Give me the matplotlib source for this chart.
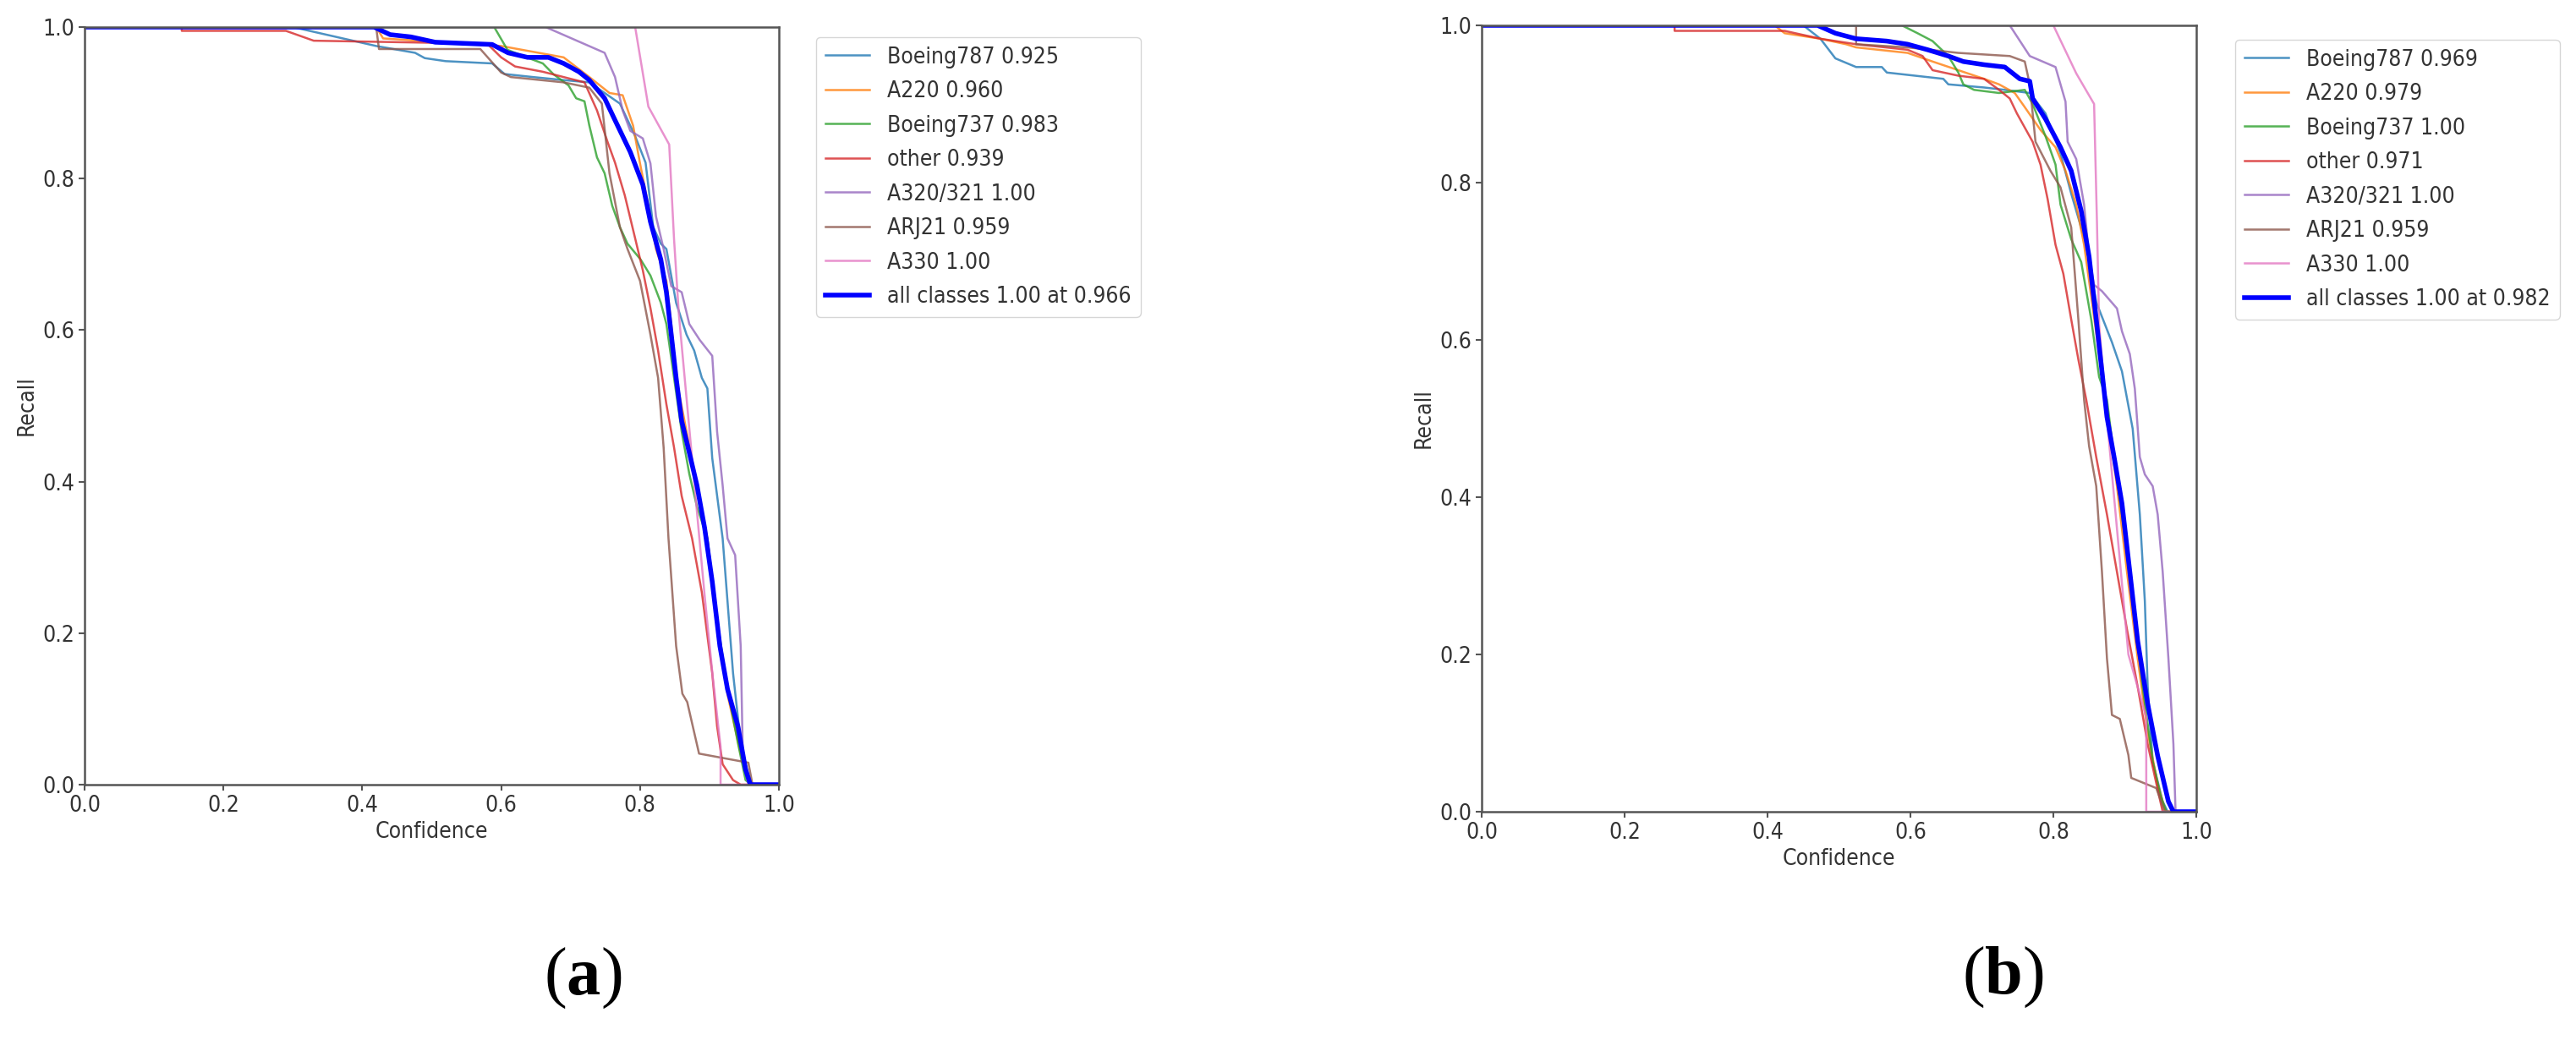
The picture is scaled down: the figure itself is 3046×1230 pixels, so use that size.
import matplotlib
matplotlib.use('Agg')
import matplotlib.pyplot as plt

# class names and colours (tab10 order, like the yolov5 curve plot)
names = ['Boeing787', 'A220', 'Boeing737', 'other', 'A320/321', 'ARJ21', 'A330']
colors = ['#1f77b4', '#ff7f0e', '#2ca02c', '#d62728', '#9467bd', '#8c564b', '#e377c2']

# ---- panel (a): recall vs confidence ----
a_scores = ['0.925', '0.960', '0.983', '0.939', '1.00', '0.959', '1.00']
a_all_label = 'all classes 1.00 at 0.966'

a_787_x = [0, 0.30, 0.42, 0.476, 0.49, 0.52, 0.587, 0.605, 0.646, 0.69, 0.727, 0.749, 0.771, 0.793, 0.808, 0.819, 0.83, 0.838, 0.852, 0.867, 0.878, 0.889, 0.897, 0.904, 0.919, 0.934, 0.945, 0.956, 0.96, 1.0]
a_787_y = [1, 1, 0.975, 0.966, 0.959, 0.955, 0.952, 0.938, 0.934, 0.93, 0.927, 0.913, 0.899, 0.856, 0.821, 0.736, 0.714, 0.707, 0.636, 0.594, 0.573, 0.537, 0.523, 0.431, 0.325, 0.147, 0.055, 0.013, 0, 0]
a_220_x = [0, 0.42, 0.43, 0.60, 0.69, 0.727, 0.756, 0.775, 0.79, 0.80, 0.812, 0.823, 0.838, 0.845, 0.852, 0.867, 0.882, 0.897, 0.911, 0.926, 0.945, 0.956, 0.96, 1.0]
a_220_y = [1, 1, 0.985, 0.975, 0.96, 0.934, 0.913, 0.91, 0.87, 0.82, 0.764, 0.707, 0.665, 0.608, 0.537, 0.466, 0.395, 0.325, 0.218, 0.119, 0.041, 0.006, 0, 0]
a_737_x = [0, 0.59, 0.609, 0.631, 0.66, 0.675, 0.697, 0.708, 0.72, 0.727, 0.738, 0.749, 0.76, 0.771, 0.782, 0.801, 0.815, 0.83, 0.838, 0.849, 0.86, 0.871, 0.882, 0.897, 0.911, 0.926, 0.941, 0.952, 0.96, 1.0]
a_737_y = [1, 1, 0.97, 0.962, 0.952, 0.938, 0.923, 0.906, 0.902, 0.87, 0.828, 0.807, 0.764, 0.736, 0.714, 0.693, 0.672, 0.636, 0.608, 0.537, 0.466, 0.41, 0.367, 0.325, 0.218, 0.126, 0.055, 0.006, 0, 0]
a_oth_x = [0, 0.14, 0.14, 0.29, 0.33, 0.58, 0.60, 0.62, 0.66, 0.69, 0.72, 0.738, 0.753, 0.764, 0.778, 0.793, 0.804, 0.815, 0.826, 0.838, 0.849, 0.86, 0.875, 0.889, 0.904, 0.911, 0.919, 0.934, 0.945, 1.0]
a_oth_y = [1, 1, 0.995, 0.995, 0.982, 0.978, 0.96, 0.948, 0.941, 0.934, 0.927, 0.89, 0.849, 0.821, 0.778, 0.721, 0.679, 0.629, 0.573, 0.502, 0.445, 0.381, 0.325, 0.254, 0.147, 0.077, 0.027, 0.006, 0, 0]
a_320_x = [0, 0.664, 0.749, 0.764, 0.775, 0.786, 0.804, 0.815, 0.823, 0.834, 0.845, 0.86, 0.871, 0.886, 0.904, 0.911, 0.919, 0.926, 0.937, 0.945, 0.948, 0.956, 1.0]
a_320_y = [1, 1, 0.966, 0.934, 0.89, 0.863, 0.853, 0.82, 0.75, 0.707, 0.658, 0.65, 0.608, 0.587, 0.566, 0.466, 0.395, 0.325, 0.303, 0.183, 0.041, 0, 0]
a_arj_x = [0, 0.42, 0.424, 0.57, 0.60, 0.614, 0.69, 0.727, 0.745, 0.756, 0.771, 0.782, 0.80, 0.815, 0.826, 0.834, 0.841, 0.852, 0.861, 0.868, 0.885, 0.956, 0.962, 1.0]
a_arj_y = [1, 1, 0.971, 0.971, 0.94, 0.934, 0.927, 0.92, 0.899, 0.807, 0.736, 0.707, 0.665, 0.594, 0.537, 0.445, 0.325, 0.183, 0.12, 0.109, 0.041, 0.029, 0, 0]
a_330_x = [0, 0.793, 0.812, 0.842, 0.849, 0.856, 0.866, 0.878, 0.893, 0.905, 0.916, 0.916, 1.0]
a_330_y = [1, 1, 0.895, 0.845, 0.72, 0.62, 0.52, 0.40, 0.25, 0.14, 0.05, 0, 0]
a_all_x = [0, 0.417, 0.44, 0.47, 0.505, 0.587, 0.61, 0.638, 0.668, 0.69, 0.712, 0.727, 0.749, 0.764, 0.786, 0.804, 0.815, 0.83, 0.838, 0.845, 0.852, 0.86, 0.871, 0.882, 0.893, 0.904, 0.915, 0.926, 0.941, 0.952, 0.959, 1.0]
a_all_y = [1, 1, 0.99, 0.987, 0.98, 0.977, 0.966, 0.96, 0.96, 0.952, 0.941, 0.93, 0.906, 0.877, 0.835, 0.792, 0.743, 0.693, 0.65, 0.594, 0.537, 0.48, 0.438, 0.395, 0.339, 0.268, 0.183, 0.126, 0.077, 0.02, 0, 0]

# ---- panel (b) ----
b_scores = ['0.969', '0.979', '1.00', '0.971', '1.00', '0.959', '1.00']
b_all_label = 'all classes 1.00 at 0.982'

b_787_x = [0, 0.45, 0.474, 0.495, 0.524, 0.56, 0.567, 0.646, 0.653, 0.703, 0.732, 0.767, 0.789, 0.81, 0.825, 0.846, 0.86, 0.882, 0.896, 0.911, 0.921, 0.928, 0.932, 0.939, 0.953, 0.96, 1.0]
b_787_y = [1, 1, 0.983, 0.958, 0.947, 0.947, 0.94, 0.932, 0.925, 0.921, 0.918, 0.914, 0.888, 0.837, 0.786, 0.721, 0.648, 0.597, 0.56, 0.487, 0.378, 0.268, 0.159, 0.064, 0.013, 0, 0]
b_220_x = [0, 0.41, 0.424, 0.474, 0.51, 0.524, 0.596, 0.631, 0.667, 0.703, 0.724, 0.746, 0.76, 0.782, 0.803, 0.817, 0.832, 0.843, 0.853, 0.864, 0.875, 0.889, 0.903, 0.918, 0.932, 0.946, 0.957, 1.0]
b_220_y = [1, 1, 0.99, 0.983, 0.976, 0.972, 0.965, 0.954, 0.943, 0.932, 0.925, 0.914, 0.896, 0.867, 0.845, 0.815, 0.772, 0.721, 0.655, 0.582, 0.509, 0.414, 0.305, 0.195, 0.101, 0.035, 0, 0]
b_737_x = [0, 0.588, 0.61, 0.631, 0.653, 0.667, 0.674, 0.689, 0.724, 0.76, 0.771, 0.789, 0.803, 0.81, 0.825, 0.839, 0.853, 0.864, 0.875, 0.885, 0.896, 0.911, 0.925, 0.939, 0.95, 0.958, 1.0]
b_737_y = [1, 1, 0.99, 0.98, 0.961, 0.94, 0.925, 0.918, 0.914, 0.918, 0.90, 0.859, 0.823, 0.772, 0.728, 0.699, 0.626, 0.553, 0.524, 0.451, 0.378, 0.268, 0.159, 0.064, 0.02, 0, 0]
b_oth_x = [0, 0.27, 0.27, 0.424, 0.474, 0.524, 0.596, 0.617, 0.631, 0.667, 0.703, 0.724, 0.739, 0.749, 0.76, 0.771, 0.782, 0.792, 0.803, 0.814, 0.825, 0.835, 0.846, 0.86, 0.875, 0.889, 0.903, 0.918, 0.932, 0.946, 0.953, 1.0]
b_oth_y = [1, 1, 0.993, 0.993, 0.983, 0.976, 0.969, 0.961, 0.943, 0.936, 0.932, 0.918, 0.907, 0.888, 0.87, 0.852, 0.823, 0.779, 0.721, 0.684, 0.626, 0.575, 0.524, 0.451, 0.378, 0.305, 0.232, 0.159, 0.086, 0.028, 0, 0]
b_320_x = [0, 0.739, 0.767, 0.803, 0.817, 0.82, 0.832, 0.843, 0.85, 0.857, 0.868, 0.889, 0.896, 0.907, 0.914, 0.921, 0.928, 0.939, 0.946, 0.953, 0.961, 0.968, 0.971, 1.0]
b_320_y = [1, 1, 0.961, 0.947, 0.903, 0.852, 0.83, 0.772, 0.706, 0.67, 0.662, 0.64, 0.611, 0.582, 0.538, 0.451, 0.429, 0.414, 0.378, 0.305, 0.195, 0.086, 0, 0]
b_arj_x = [0, 0.524, 0.524, 0.596, 0.667, 0.739, 0.76, 0.767, 0.775, 0.796, 0.81, 0.825, 0.835, 0.843, 0.85, 0.86, 0.868, 0.875, 0.882, 0.893, 0.905, 0.909, 0.944, 0.956, 1.0]
b_arj_y = [1, 1, 0.976, 0.972, 0.965, 0.961, 0.954, 0.925, 0.852, 0.815, 0.794, 0.743, 0.626, 0.524, 0.465, 0.414, 0.305, 0.195, 0.123, 0.118, 0.072, 0.043, 0.03, 0, 0]
b_330_x = [0, 0.80, 0.832, 0.857, 0.861, 0.864, 0.875, 0.89, 0.905, 0.93, 0.93, 1.0]
b_330_y = [1, 1, 0.939, 0.90, 0.75, 0.62, 0.50, 0.35, 0.20, 0.12, 0, 0]
b_all_x = [0, 0.47, 0.495, 0.524, 0.567, 0.596, 0.624, 0.653, 0.674, 0.703, 0.732, 0.753, 0.767, 0.771, 0.789, 0.81, 0.825, 0.839, 0.85, 0.86, 0.868, 0.875, 0.885, 0.896, 0.907, 0.918, 0.932, 0.946, 0.961, 0.968, 1.0]
b_all_y = [1, 1, 0.99, 0.983, 0.98, 0.976, 0.969, 0.961, 0.954, 0.95, 0.947, 0.932, 0.929, 0.907, 0.881, 0.845, 0.815, 0.764, 0.706, 0.626, 0.56, 0.502, 0.451, 0.392, 0.305, 0.217, 0.137, 0.071, 0.013, 0, 0]

a_curves = [(a_787_x, a_787_y), (a_220_x, a_220_y), (a_737_x, a_737_y), (a_oth_x, a_oth_y),
            (a_320_x, a_320_y), (a_arj_x, a_arj_y), (a_330_x, a_330_y)]
b_curves = [(b_787_x, b_787_y), (b_220_x, b_220_y), (b_737_x, b_737_y), (b_oth_x, b_oth_y),
            (b_320_x, b_320_y), (b_arj_x, b_arj_y), (b_330_x, b_330_y)]

plt.rcParams['font.family'] = 'DejaVu Sans'
plt.rcParams['font.stretch'] = 'condensed'
plt.rcParams['mathtext.fontset'] = 'custom'
plt.rcParams['mathtext.rm'] = 'Liberation Serif'
plt.rcParams['mathtext.bf'] = 'Liberation Serif:bold'

txt = '#333333'
fs = 19

fig = plt.figure(figsize=(30.46, 12.30), dpi=100)
W, H = 3046.0, 1230.0
ax_a = fig.add_axes([100 / W, 1 - 928 / H, 821 / W, 896 / H])
ax_b = fig.add_axes([1752 / W, 1 - 960 / H, 845 / W, 930 / H])


def draw(ax, curves, scores, all_x, all_y, all_label, leg_xy):
    for (x, y), n, s, c in zip(curves, names, scores, colors):
        ax.plot(x, y, color=c, lw=1.8, alpha=0.8, label=n + ' ' + s)
    ax.plot(all_x, all_y, color='blue', lw=4, label=all_label)
    ax.set_xlim(0, 1)
    ax.set_ylim(0, 1)
    ax.set_xticks([0, 0.2, 0.4, 0.6, 0.8, 1.0])
    ax.set_yticks([0, 0.2, 0.4, 0.6, 0.8, 1.0])
    ax.set_xlabel('Confidence', fontsize=fs, color=txt)
    ax.set_ylabel('Recall', fontsize=fs, color=txt)
    ax.tick_params(labelsize=fs, colors='#555555', labelcolor=txt, width=1.5, length=5)
    for sp in ax.spines.values():
        sp.set_color('#555555')
        sp.set_linewidth(1.8)
    leg = ax.legend(loc='upper left', bbox_to_anchor=leg_xy, bbox_transform=fig.transFigure,
                    borderaxespad=0, fontsize=fs, labelspacing=0.55, handlelength=2.0)
    for t in leg.get_texts():
        t.set_color(txt)


draw(ax_a, a_curves, a_scores, a_all_x, a_all_y, a_all_label, (965 / W, 1 - 44 / H))
draw(ax_b, b_curves, b_scores, b_all_x, b_all_y, b_all_label, (2643 / W, 1 - 47 / H))

# sub-figure captions, regular brackets and bold letter
fig.text(689 / W, 1 - 1157 / H, r'($\mathbf{a}$)', family='Liberation Serif', fontsize=58,
         ha='center', va='center', color='black')
fig.text(2368 / W, 1 - 1156 / H, r'($\mathbf{b}$)', family='Liberation Serif', fontsize=58,
         ha='center', va='center', color='black')

fig.savefig('out.png', dpi=100)
